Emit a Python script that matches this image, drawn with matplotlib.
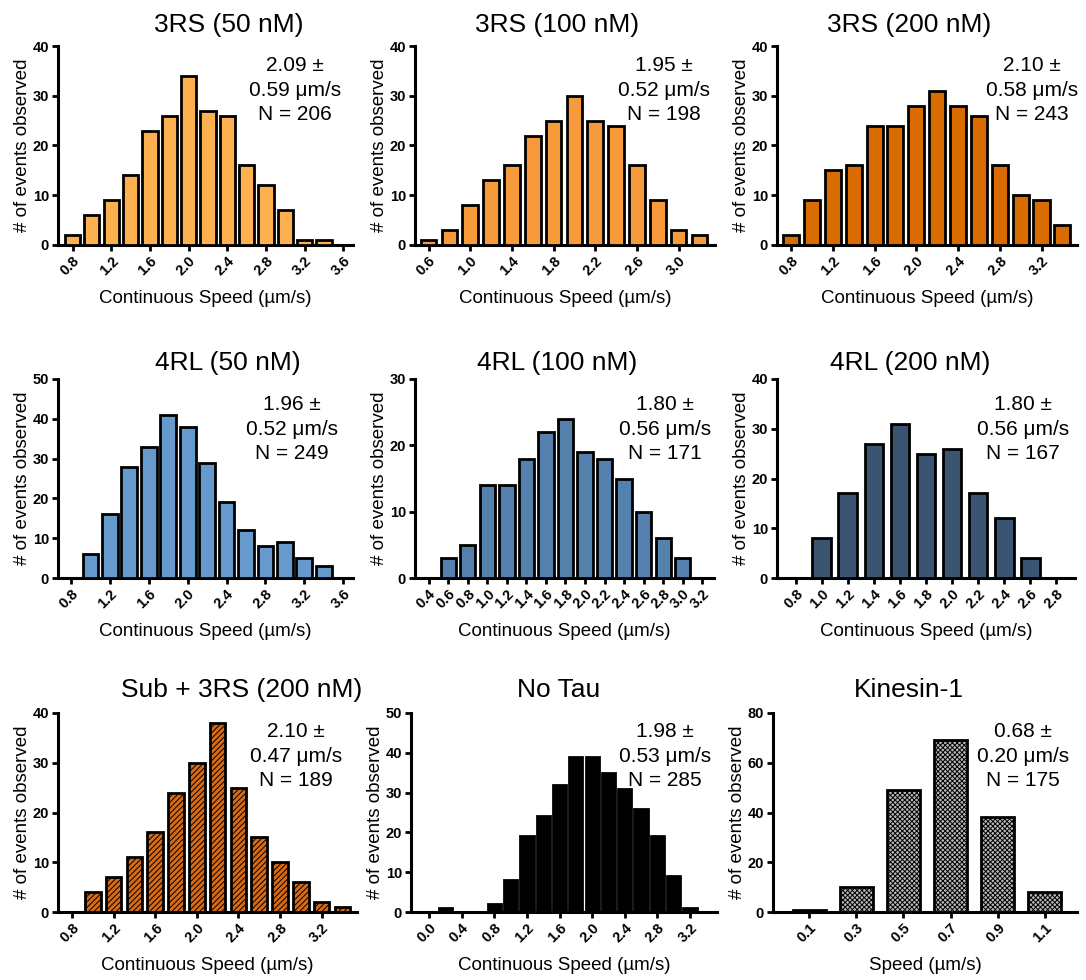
import matplotlib.pyplot as plt

plt.rcParams['font.family'] = ['Liberation Sans', 'DejaVu Sans']
plt.rcParams['hatch.linewidth'] = 0.7

# ---- data ----
speed_3rs_50 = [0.8, 1.0, 1.2, 1.4, 1.6, 1.8, 2.0, 2.2, 2.4, 2.6, 2.8, 3.0, 3.2, 3.4]
count_3rs_50 = [2, 6, 9, 14, 23, 26, 34, 27, 26, 16, 12, 7, 1, 1]
xticks_3rs_50 = [0.8, 1.2, 1.6, 2.0, 2.4, 2.8, 3.2, 3.6]
yticks_3rs_50 = [0, 10, 20, 30, 40]

speed_3rs_100 = [0.6, 0.8, 1.0, 1.2, 1.4, 1.6, 1.8, 2.0, 2.2, 2.4, 2.6, 2.8, 3.0, 3.2]
count_3rs_100 = [1, 3, 8, 13, 16, 22, 25, 30, 25, 24, 16, 9, 3, 2]
xticks_3rs_100 = [0.6, 1.0, 1.4, 1.8, 2.2, 2.6, 3.0]
yticks_3rs_100 = [0, 10, 20, 30, 40]

speed_3rs_200 = [0.8, 1.0, 1.2, 1.4, 1.6, 1.8, 2.0, 2.2, 2.4, 2.6, 2.8, 3.0, 3.2, 3.4]
count_3rs_200 = [2, 9, 15, 16, 24, 24, 28, 31, 28, 26, 16, 10, 9, 4]
xticks_3rs_200 = [0.8, 1.2, 1.6, 2.0, 2.4, 2.8, 3.2]
yticks_3rs_200 = [0, 10, 20, 30, 40]

speed_4rl_50 = [1.0, 1.2, 1.4, 1.6, 1.8, 2.0, 2.2, 2.4, 2.6, 2.8, 3.0, 3.2, 3.4]
count_4rl_50 = [6, 16, 28, 33, 41, 38, 29, 19, 12, 8, 9, 5, 3]
xticks_4rl_50 = [0.8, 1.2, 1.6, 2.0, 2.4, 2.8, 3.2, 3.6]
yticks_4rl_50 = [0, 10, 20, 30, 40, 50]

speed_4rl_100 = [0.6, 0.8, 1.0, 1.2, 1.4, 1.6, 1.8, 2.0, 2.2, 2.4, 2.6, 2.8, 3.0]
count_4rl_100 = [3, 5, 14, 14, 18, 22, 24, 19, 18, 15, 10, 6, 3]
xticks_4rl_100 = [0.4, 0.6, 0.8, 1.0, 1.2, 1.4, 1.6, 1.8, 2.0, 2.2, 2.4, 2.6, 2.8, 3.0, 3.2]
yticks_4rl_100 = [0, 10, 20, 30]

speed_4rl_200 = [1.0, 1.2, 1.4, 1.6, 1.8, 2.0, 2.2, 2.4, 2.6]
count_4rl_200 = [8, 17, 27, 31, 25, 26, 17, 12, 4]
xticks_4rl_200 = [0.8, 1.0, 1.2, 1.4, 1.6, 1.8, 2.0, 2.2, 2.4, 2.6, 2.8]
yticks_4rl_200 = [0, 10, 20, 30, 40]

speed_sub = [1.0, 1.2, 1.4, 1.6, 1.8, 2.0, 2.2, 2.4, 2.6, 2.8, 3.0, 3.2, 3.4]
count_sub = [4, 7, 11, 16, 24, 30, 38, 25, 15, 10, 6, 2, 1]
xticks_sub = [0.8, 1.2, 1.6, 2.0, 2.4, 2.8, 3.2]
yticks_sub = [0, 10, 20, 30, 40]

speed_notau = [0.0, 0.2, 0.4, 0.6, 0.8, 1.0, 1.2, 1.4, 1.6, 1.8, 2.0, 2.2, 2.4, 2.6, 2.8, 3.0, 3.2]
count_notau = [0, 1, 0, 0, 2, 8, 19, 24, 32, 39, 39, 35, 31, 26, 19, 9, 1]
xticks_notau = [0.0, 0.4, 0.8, 1.2, 1.6, 2.0, 2.4, 2.8, 3.2]
yticks_notau = [0, 10, 20, 30, 40, 50]

speed_kin = [0.1, 0.3, 0.5, 0.7, 0.9, 1.1]
count_kin = [1, 10, 49, 69, 38, 8]
xticks_kin = [0.1, 0.3, 0.5, 0.7, 0.9, 1.1]
yticks_kin = [0, 20, 40, 60, 80]

titles = ["3RS (50 nM)", "3RS (100 nM)", "3RS (200 nM)",
          "4RL (50 nM)", "4RL (100 nM)", "4RL (200 nM)",
          "Sub + 3RS (200 nM)", "No Tau", "Kinesin-1"]
means = ["2.09", "1.95", "2.10", "1.96", "1.80", "1.80", "2.10", "1.98", "0.68"]
sds = ["0.59", "0.52", "0.58", "0.52", "0.56", "0.56", "0.47", "0.53", "0.20"]
ns = [206, 198, 243, 249, 171, 167, 189, 285, 175]

speeds = [speed_3rs_50, speed_3rs_100, speed_3rs_200, speed_4rl_50, speed_4rl_100,
          speed_4rl_200, speed_sub, speed_notau, speed_kin]
counts = [count_3rs_50, count_3rs_100, count_3rs_200, count_4rl_50, count_4rl_100,
          count_4rl_200, count_sub, count_notau, count_kin]
xticks = [xticks_3rs_50, xticks_3rs_100, xticks_3rs_200, xticks_4rl_50, xticks_4rl_100,
          xticks_4rl_200, xticks_sub, xticks_notau, xticks_kin]
yticks = [yticks_3rs_50, yticks_3rs_100, yticks_3rs_200, yticks_4rl_50, yticks_4rl_100,
          yticks_4rl_200, yticks_sub, yticks_notau, yticks_kin]

# ---- styling / layout ----
colors = ['#FDB04F', '#F79A3B', '#D96C00', '#6699CC', '#5480AE', '#3A5572',
          '#D86A14', 'black', '#B8B8B8']
hatches = [None, None, None, None, None, None, '//////', None, 'xxxxxxx']
widths = [0.158, 0.15, 0.154, 0.162, 0.157, 0.145, 0.15, 0.163, 0.14]
xlims = [(0.65, 3.7), (0.47, 3.35), (0.665, 3.54), (0.667, 3.7), (0.26, 3.32),
         (0.655, 2.945), (0.665, 3.54), (-0.22, 3.53), (-0.053, 1.236)]

# axes boxes in pixels: left, top, right, bottom
boxes = [(58, 46, 353, 245), (415, 46, 715, 245), (777, 46, 1077, 245),
         (58, 379, 353, 578), (415, 379, 714, 578), (777, 379, 1075, 578),
         (58, 713, 357, 912), (411, 713, 717, 912), (773, 713, 1077, 912)]
title_x = [229, 557, 909, 228, 557, 910, 242, 559, 909]
title_y = [32, 32, 32, 370, 370, 370, 697, 697, 697]
note_x = [295, 664, 1032, 292, 665, 1023, 296, 665, 1023]
note_y = [71, 71, 71, 410, 410, 410, 737, 737, 737]

W, H = 1086, 980
fig = plt.figure(figsize=(W / 100, H / 100), dpi=100)

for i in range(9):
    l, t, r, b = boxes[i]
    ax = fig.add_axes([l / W, 1 - b / H, (r - l) / W, (b - t) / H])

    ax.bar(speeds[i], counts[i], width=widths[i], color=colors[i],
           edgecolor='black', linewidth=2, hatch=hatches[i], zorder=3)

    ax.set_xlim(*xlims[i])
    ax.set_ylim(0, yticks[i][-1])
    ax.set_xticks(xticks[i], [f"{v:.1f}" for v in xticks[i]], rotation=45,
                  ha='right', rotation_mode='anchor', fontweight='bold')
    ax.set_yticks(yticks[i], [str(v) for v in yticks[i]], fontweight='bold')
    ax.tick_params(direction='out', length=4.5, width=2, labelsize=10.5, pad=2)

    for side in ['top', 'right']:
        ax.spines[side].set_visible(False)
    for side in ['left', 'bottom']:
        ax.spines[side].set_linewidth(2.2)

    if i == 8:
        ax.set_xlabel("Speed (µm/s)", fontsize=13.5)
    else:
        ax.set_xlabel("Continuous Speed (µm/s)", fontsize=13.5)
    ax.xaxis.label.set_verticalalignment('baseline')
    ax.xaxis.set_label_coords(0.5, -58 / (b - t))
    ax.set_ylabel("# of events observed", fontsize=13.5)
    ax.yaxis.set_label_coords(-27 / (r - l), 0.5)

    fig.text(title_x[i] / W, 1 - title_y[i] / H, titles[i], fontsize=19,
             ha='center', va='baseline')

    lines = [means[i] + " ±", sds[i] + " μm/s", f"N = {ns[i]}"]
    for k, line in enumerate(lines):
        fig.text(note_x[i] / W, 1 - (note_y[i] + 24.5 * k) / H, line,
                 fontsize=15, ha='center', va='baseline')

fig.savefig("out.png", dpi=100)
